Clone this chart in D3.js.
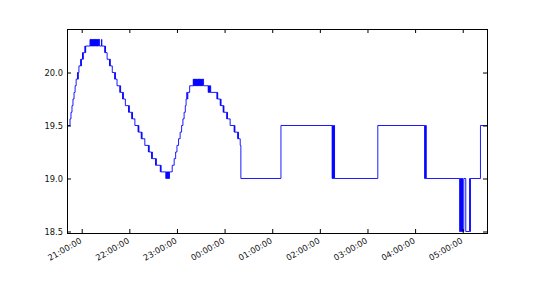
<!DOCTYPE html>
<html><head><meta charset="utf-8">
<script src="https://cdn.jsdelivr.net/npm/d3@7"></script>
<style>
html,body{margin:0;padding:0;background:#fff;}
svg{display:block;font-family:"DejaVu Sans",sans-serif;}
</style></head>
<body>
<script>
// ---- data: [time, temperature] readings (step changes) ----
const warmup1 = [
 ["20:42:06",19.5],["20:45:15",19.5625],["20:46:30",19.625],["20:47:45",19.6875],["20:49:00",19.75],
 ["20:50:20",19.8125],["20:51:40",19.875],["20:53:00",19.9375],["20:54:40",20.0],["20:55:10",19.9375],
 ["20:55:40",20.0],["20:56:30",20.0625],["20:58:40",20.125],["20:59:10",20.0625],["20:59:40",20.125],
 ["21:01:00",20.1875],["21:01:30",20.125],["21:02:00",20.1875],["21:04:00",20.25],["21:04:30",20.1875],
 ["21:05:00",20.25]
];
const peak1 = [
 ["21:10:30",20.3125],["21:11:00",20.25],["21:11:30",20.3125],["21:12:00",20.25],["21:12:30",20.3125],
 ["21:13:00",20.25],["21:13:30",20.3125],["21:14:00",20.25],["21:14:30",20.3125],["21:15:00",20.25],
 ["21:15:30",20.3125],["21:16:00",20.25],["21:16:30",20.3125],["21:17:00",20.25],["21:17:30",20.3125],
 ["21:18:00",20.25],["21:18:30",20.3125],["21:19:00",20.25],["21:19:30",20.3125],["21:20:00",20.25],
 ["21:20:30",20.3125],["21:21:00",20.25],["21:21:30",20.3125],["21:22:30",20.25],
 ["21:25:00",20.3125],["21:25:20",20.25]
];
const cooldown1 = [
 ["21:29:00",20.1875],["21:29:30",20.25],["21:30:00",20.1875],["21:32:00",20.125],
 ["21:35:00",20.0625],["21:35:30",20.125],["21:36:00",20.0625],["21:38:30",20.0],
 ["21:41:30",19.9375],["21:42:00",20.0],["21:42:30",19.9375],["21:44:30",19.875],
 ["21:48:00",19.8125],["21:48:30",19.875],["21:49:00",19.8125],
 ["21:51:30",19.75],["21:52:00",19.8125],["21:52:30",19.75],["21:55:00",19.6875],
 ["21:59:00",19.625],["21:59:30",19.6875],["22:00:00",19.625],
 ["22:03:00",19.5625],["22:03:30",19.625],["22:04:00",19.5625],["22:07:00",19.5],
 ["22:11:00",19.4375],["22:11:30",19.5],["22:12:00",19.4375],
 ["22:15:00",19.375],["22:15:30",19.4375],["22:16:00",19.375],["22:19:30",19.3125],
 ["22:24:00",19.25],["22:24:30",19.3125],["22:25:00",19.25],
 ["22:28:00",19.1875],["22:28:30",19.25],["22:29:00",19.1875],
 ["22:33:00",19.125],["22:33:30",19.1875],["22:34:00",19.125],
 ["22:39:00",19.0625],["22:39:30",19.125],["22:40:00",19.0625],
 ["22:46:00",19.0],["22:46:30",19.0625],["22:47:00",19.0],["22:47:30",19.0625],["22:48:00",19.0],
 ["22:48:30",19.0625],["22:49:00",19.0],["22:49:30",19.0625],["22:50:00",19.0],["22:50:30",19.0625]
];
const warmup2 = [
 ["22:54:00",19.125],["22:56:30",19.1875],["22:58:20",19.25],["23:00:00",19.3125],["23:02:00",19.375],
 ["23:04:00",19.4375],["23:05:50",19.5],["23:07:30",19.5625],["23:09:00",19.625],["23:10:30",19.6875],
 ["23:11:30",19.75],["23:12:20",19.8125],["23:13:00",19.75],["23:13:40",19.8125],["23:16:00",19.875]
];
const peak2 = [
 ["23:20:30",19.9375],["23:21:00",19.875],["23:21:30",19.9375],["23:22:00",19.875],["23:22:30",19.9375],
 ["23:23:00",19.875],["23:23:30",19.9375],["23:24:00",19.875],["23:24:30",19.9375],["23:25:00",19.875],
 ["23:25:30",19.9375],["23:26:00",19.875],["23:26:30",19.9375],["23:27:00",19.875],["23:27:30",19.9375],
 ["23:28:00",19.875],["23:28:30",19.9375],["23:29:00",19.875],["23:29:30",19.9375],["23:30:00",19.875],
 ["23:30:30",19.9375],["23:31:00",19.875],["23:31:30",19.9375],["23:32:00",19.875],["23:32:30",19.9375],
 ["23:33:30",19.875]
];
const cooldown2 = [
 ["23:39:20",19.8125],["23:39:50",19.875],["23:40:20",19.8125],["23:40:50",19.875],["23:41:20",19.8125],
 ["23:41:50",19.875],["23:42:30",19.8125],
 ["23:50:20",19.75],["23:50:50",19.8125],["23:51:20",19.75],
 ["23:54:30",19.6875],["23:55:00",19.75],["23:55:30",19.6875],
 ["23:58:10",19.625],["23:58:40",19.6875],["23:59:10",19.625],
 ["00:02:40",19.5625],["00:03:10",19.625],["00:03:40",19.5625],["00:07:00",19.5],
 ["00:12:00",19.4375],["00:12:30",19.5],["00:13:00",19.4375],
 ["00:16:30",19.375],["00:17:00",19.4375],["00:17:30",19.375],["00:19:40",19.3125],
 ["00:20:30",19.0]
];
const regulated = [
 ["01:11:00",19.5],
 ["02:15:30",19.0],["02:16:00",19.5],["02:16:30",19.0],["02:17:00",19.5],["02:17:30",19.0],
 ["02:18:00",19.5],["02:18:30",19.0],
 ["03:13:00",19.5],
 ["04:12:00",19.0],["04:12:30",19.5],["04:13:00",19.0],["04:13:30",19.5],["04:14:00",19.0],
 ["04:56:10",18.5],["04:56:40",19.0],["04:57:10",18.5],["04:57:40",19.0],["04:58:10",18.5],
 ["04:58:40",19.0],["04:59:10",18.5],["04:59:40",19.0],["05:00:00",18.5],
 ["05:01:20",19.0],["05:03:50",18.5],
 ["05:08:40",19.0],["05:09:10",18.5],["05:09:40",19.0],
 ["05:22:20",19.5],["05:31:12",19.5]
];
const yTicks = [18.5, 19.0, 19.5, 20.0];
const xTickLabels = ["21:00:00","22:00:00","23:00:00","00:00:00","01:00:00","02:00:00","03:00:00","04:00:00","05:00:00"];
const xStart = "20:42:06", xEnd = "05:31:12";
const yMin = 18.481, yMax = 20.406;

// ---- helpers ----
function toDate(s){
  const [h,m,sec] = s.split(":").map(Number);
  const day = h >= 12 ? 1 : 2;
  return new Date(2015, 0, day, h, m, sec);
}
const series = [].concat(warmup1, peak1, cooldown1, warmup2, peak2, cooldown2, regulated)
  .map(d => ({t: toDate(d[0]), v: d[1]}));

const W = 540, H = 292;
const L = 67.5, R = 487.5, T = 29.5, B = 233.5;

const svg = d3.select("body").append("svg").attr("width", W).attr("height", H);
svg.append("rect").attr("width", W).attr("height", H).attr("fill", "#fff");

const x = d3.scaleTime().domain([toDate(xStart), toDate(xEnd)]).range([L, R]);
const y = d3.scaleLinear().domain([yMin, yMax]).range([B, T]);

svg.append("defs").append("clipPath").attr("id","clip")
  .append("rect").attr("x", L).attr("y", T).attr("width", R-L).attr("height", B-T);

const line = d3.line().x(d => x(d.t)).y(d => y(d.v)).curve(d3.curveStepAfter);
svg.append("path").datum(series)
  .attr("clip-path","url(#clip)")
  .attr("fill","none").attr("stroke","#0000ff").attr("stroke-width",0.9)
  .attr("d", line);

const xTicks = xTickLabels.map(toDate);
const fmtT = d3.timeFormat("%H:%M:%S");

function styleAxis(g){
  g.select(".domain").remove();
  g.selectAll(".tick line").attr("stroke","#000");
  g.selectAll("text").attr("fill","#111").attr("font-size","8.3px").attr("font-family","DejaVu Sans");
}

svg.append("g").attr("transform",`translate(${L-0.5},0)`)
  .call(d3.axisLeft(y).tickValues(yTicks).tickFormat(d3.format(".1f")).tickSizeInner(-4).tickSizeOuter(0).tickPadding(4))
  .call(styleAxis);
svg.append("g").attr("transform",`translate(${R-0.5},0)`)
  .call(d3.axisRight(y).tickValues(yTicks).tickFormat("").tickSizeInner(-4).tickSizeOuter(0))
  .call(styleAxis);
svg.append("g").attr("transform",`translate(0,${T-0.5})`)
  .call(d3.axisTop(x).tickValues(xTicks).tickFormat("").tickSizeInner(-4).tickSizeOuter(0))
  .call(styleAxis);
const gx = svg.append("g").attr("transform",`translate(0,${B-0.5})`)
  .call(d3.axisBottom(x).tickValues(xTicks).tickFormat(fmtT).tickSizeInner(-4).tickSizeOuter(0))
  .call(styleAxis);
gx.selectAll(".tick text")
  .attr("x", 0).attr("y", 0).attr("dy", "0.75em")
  .attr("text-anchor","end")
  .attr("transform","translate(-3,4) rotate(-30)");

svg.append("rect").attr("x", L).attr("y", T).attr("width", R-L).attr("height", B-T)
  .attr("fill","none").attr("stroke","#000").attr("stroke-width",1);
</script>
</body></html>
